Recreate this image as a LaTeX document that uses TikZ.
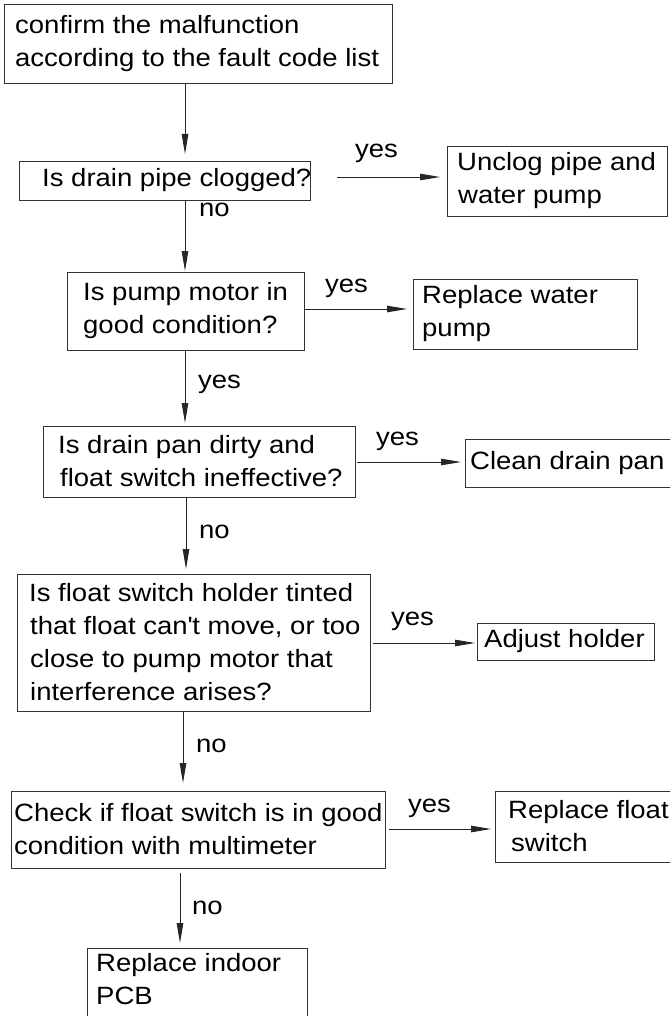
\documentclass[tikz,border=0pt]{standalone}
\usepackage{fontspec}
\setmainfont{Liberation Sans}[FakeStretch=1.1]
\usetikzlibrary{arrows.meta,calc}
\begin{document}
\begin{tikzpicture}[x=1pt,y=-1pt,
  box/.style={draw=black!80, line width=0.9pt, anchor=north west, inner sep=0pt, outer sep=0pt},
  txt/.style={font=\fontsize{25}{33}\selectfont, align=left, inner sep=0pt, anchor=west},
  lbl/.style={font=\fontsize{25}{33}\selectfont, inner sep=0pt, anchor=base west},
  arr/.style={line width=0.9pt, draw=black!85, -{Triangle[length=20pt,width=6.5pt]}}]
\clip (0,0) rectangle (670,1016);
\fill[white] (0,0) rectangle (670,1016);

% boxes
\node[box, minimum width=388pt, minimum height=79pt] (b1) at (4,4) {};
\node[box, minimum width=291pt, minimum height=39pt] (b2) at (19,161) {};
\node[box, minimum width=220pt, minimum height=70pt] (b3) at (447,146) {};
\node[box, minimum width=237pt, minimum height=78pt] (b4) at (67,272) {};
\node[box, minimum width=224pt, minimum height=70pt] (b5) at (413,279) {};
\node[box, minimum width=312pt, minimum height=71pt] (b6) at (43,426) {};
\node[box, minimum width=230pt, minimum height=48pt] (b7) at (465,439) {};
\node[box, minimum width=353pt, minimum height=137pt] (b8) at (17,574) {};
\node[box, minimum width=177pt, minimum height=37pt] (b9) at (477,623) {};
\node[box, minimum width=374pt, minimum height=77pt] (b10) at (11,791) {};
\node[box, minimum width=200pt, minimum height=71pt] (b11) at (495,791) {};
\node[box, minimum width=220pt, minimum height=100pt] (b12) at (87,948) {};

% texts
\node[txt] (t1) at ($(b1.west)+(11,0)$) {confirm the malfunction\\according to the fault code list};
\node[txt] (t2) at ($(b2.west)+(23,0)$) {Is drain pipe clogged?};
\node[txt] (t3) at ($(b3.west)+(10,0)$) {Unclog pipe and\\\hspace{1pt}water pump};
\node[txt] (t4) at ($(b4.west)+(16,0)$) {Is pump motor in\\good condition?};
\node[txt] (t5) at ($(b5.west)+(9,0)$) {Replace water\\pump};
\node[txt] (t6) at ($(b6.west)+(15,0)$) {Is drain pan dirty and\\\hspace{2pt}float switch ineffective?};
\node[txt] (t7) at ($(b7.west)+(5,0)$) {Clean drain pan};
\node[txt] (t8) at ($(b8.west)+(12,0)$) {Is float switch holder tinted\\\hspace{1pt}that float can\textquotesingle t move, or too\\\hspace{1pt}close to pump motor that\\\hspace{1pt}interference arises?};
\node[txt] (t9) at ($(b9.west)+(7,0)$) {Adjust holder};
\node[txt] (t10) at ($(b10.west)+(3,0)$) {Check if float switch is in good\\condition with multimeter};
\node[txt] (t11) at ($(b11.west)+(13,0)$) {Replace float\\\hspace{3pt}switch};
\node[txt] (t12) at ($(b12.north west)+(9,31)$) {Replace indoor\\PCB};

% vertical connectors
\coordinate (v1) at (185,0);
\coordinate (v2) at (186,0);
\coordinate (v3) at (183,0);
\coordinate (v4) at (180,0);
\draw[arr] (b1.south -| v1) -- ($(b2.north -| v1)+(0,-7)$);
\draw[arr] (b2.south -| v1) -- ($(b4.north -| v1)+(0,-1)$);
\draw[arr] (b4.south -| v1) -- ($(b6.north -| v1)+(0,-3)$);
\draw[arr] (b6.south -| v2) -- ($(b8.north -| v2)+(0,-5)$);
\draw[arr] (b8.south -| v3) -- ($(b10.north -| v3)+(0,-8)$);
\draw[arr] ($(b10.south -| v4)+(0,5)$) -- ($(b12.north -| v4)+(0,-5)$);

% horizontal connectors
\coordinate (h1) at (0,177);
\coordinate (h2) at (0,309);
\coordinate (h3) at (0,462);
\coordinate (h4) at (0,643);
\coordinate (h5) at (0,829);
\draw[arr] ($(b2.east |- h1)+(27,0)$) -- ($(b3.west |- h1)+(-7,0)$);
\draw[arr] (b4.east |- h2) -- ($(b5.west |- h2)+(-6,0)$);
\draw[arr] ($(b6.east |- h3)+(2,0)$) -- ($(b7.west |- h3)+(-4,0)$);
\draw[arr] ($(b8.east |- h4)+(3,0)$) -- ($(b9.west |- h4)+(-2,0)$);
\draw[arr] ($(b10.east |- h5)+(4,0)$) -- ($(b11.west |- h5)+(-4,0)$);

% labels
\node[lbl] (l1) at (355,158) {yes};
\node[lbl] (l2) at (199,217) {no};
\node[lbl] (l3) at (325,292) {yes};
\node[lbl] (l4) at (198,388) {yes};
\node[lbl] (l5) at (376,445) {yes};
\node[lbl] (l6) at (199,538) {no};
\node[lbl] (l7) at (391,625) {yes};
\node[lbl] (l8) at (196,752) {no};
\node[lbl] (l9) at (408,812) {yes};
\node[lbl] (l10) at (192,914) {no};
\end{tikzpicture}
\end{document}
